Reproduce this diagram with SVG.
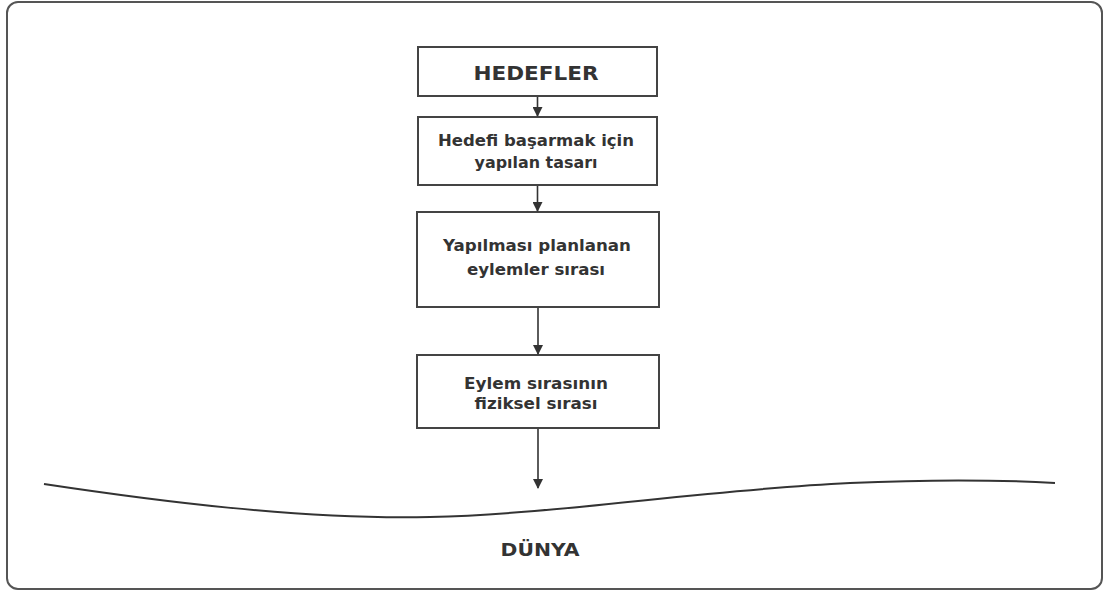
<svg xmlns="http://www.w3.org/2000/svg" width="1107" height="592" viewBox="0 0 1107 592">
  <style>
    .frame { fill: #ffffff; stroke: #555555; stroke-width: 2; }
    .box { fill: #ffffff; stroke: #444444; stroke-width: 2; }
    .lbl { font-family: "DejaVu Sans", "Liberation Sans", Arial, sans-serif; font-weight: bold; fill: #333333; text-anchor: middle; }
    .conn { stroke: #333333; stroke-width: 1.6; fill: none; }
  </style>
  <defs>
    <marker id="arrow" markerWidth="10" markerHeight="10" refX="9" refY="5" orient="auto" markerUnits="userSpaceOnUse">
      <path d="M0,0 L10,5 L0,10 Z" fill="#333333"/>
    </marker>
  </defs>

  <rect x="0" y="0" width="1107" height="592" fill="#ffffff"/>
  <rect class="frame" x="7" y="2" width="1095" height="587" rx="11" ry="11"/>

  <g id="node-hedefler">
    <rect class="box" x="418" y="47" width="239" height="49"/>
    <text class="lbl" x="536" y="80" font-size="19.5" textLength="125" lengthAdjust="spacingAndGlyphs">HEDEFLER</text>
  </g>

  <g id="node-tasari">
    <rect class="box" x="418" y="117" width="239" height="68"/>
    <text class="lbl" x="536" y="145.5" font-size="15" textLength="196" lengthAdjust="spacingAndGlyphs">Hedefi başarmak için</text>
    <text class="lbl" x="536" y="167.5" font-size="15" textLength="123" lengthAdjust="spacingAndGlyphs">yapılan tasarı</text>
  </g>

  <g id="node-eylemler">
    <rect class="box" x="417" y="212" width="242" height="95"/>
    <text class="lbl" x="537" y="250.5" font-size="15" textLength="188" lengthAdjust="spacingAndGlyphs">Yapılması planlanan</text>
    <text class="lbl" x="536" y="274.5" font-size="15" textLength="138" lengthAdjust="spacingAndGlyphs">eylemler sırası</text>
  </g>

  <g id="node-fiziksel">
    <rect class="box" x="417" y="355" width="242" height="73"/>
    <text class="lbl" x="536" y="388.5" font-size="15" textLength="144" lengthAdjust="spacingAndGlyphs">Eylem sırasının</text>
    <text class="lbl" x="536" y="408.5" font-size="15" textLength="123" lengthAdjust="spacingAndGlyphs">fiziksel sırası</text>
  </g>

  <g id="node-dunya">
    <path d="M44,484 C150,500 300,520 430,517 C560,514 700,490 850,483 C960,478 1020,481 1055,483" fill="none" stroke="#333333" stroke-width="2"/>
    <text class="lbl" x="540" y="556" font-size="18.5" textLength="79" lengthAdjust="spacingAndGlyphs">DÜNYA</text>
  </g>

  <g id="connectors">
    <line class="conn" x1="537.5" y1="97" x2="537.5" y2="116" marker-end="url(#arrow)"/>
    <line class="conn" x1="537.5" y1="186" x2="537.5" y2="211" marker-end="url(#arrow)"/>
    <line class="conn" x1="538" y1="308" x2="538" y2="354" marker-end="url(#arrow)"/>
    <line class="conn" x1="538" y1="429" x2="538" y2="488" marker-end="url(#arrow)"/>
  </g>
</svg>
